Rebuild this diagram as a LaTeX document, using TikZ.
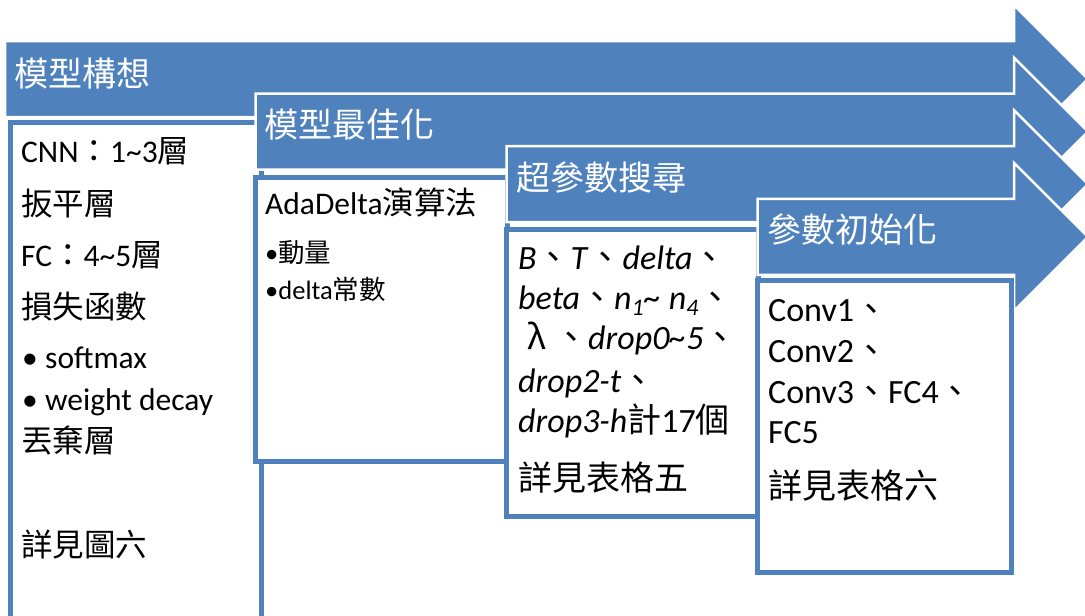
\documentclass[tikz,border=0pt]{standalone}
\usepackage{fontspec}
\setmainfont{Carlito}
\newfontfamily\cjk{Noto Sans CJK TC}
\newcommand\zh[1]{{\cjk #1}}
\definecolor{accent}{HTML}{4F81BD}
\newcommand\procarrow[2]{%
  \draw[arrowshape] (#1,#2-38) -- (1014,#2-38) -- (1014,#2-74) -- (1088,#2)
    -- (1014,#2+74) -- (1014,#2+38) -- (#1,#2+38) -- cycle;}
\begin{document}
\begin{tikzpicture}[x=1pt,y=-1pt,
  arrowshape/.style={fill=accent, draw=white, line width=2.5pt},
  panel/.style={fill=white, draw=accent, line width=5pt},
  title/.style={anchor=base west, inner sep=0pt, text=white, font=\cjk\fontsize{34}{40}\selectfont},
  txt/.style={anchor=base west, inner sep=0pt, text=black, font=\fontsize{31.5}{36}\selectfont},
  big/.style={anchor=base west, inner sep=0pt, text=black, font=\fontsize{34}{40}\selectfont},
  small/.style={anchor=base west, inner sep=0pt, text=black, font=\fontsize{26.5}{30}\selectfont}]
\clip (0,0) rectangle (1085,616);
\fill[white] (0,0) rectangle (1085,616);
% stage 1
\procarrow{5}{79}
\draw[panel] (10,122) rectangle (261.5,660);
\node[title] (t1) at (14,86) {模型構想};
\node[txt] (a1) at (21,162) {CNN\zh{：}1\textasciitilde 3\zh{層}};
\node[txt] (a2) at (21,215) {\zh{扳平層}};
\node[txt] (a3) at (21,266) {FC\zh{：}4\textasciitilde 5\zh{層}};
\node[txt] (a4) at (21,318) {\zh{損失函數}};
\node[txt] (a5b) at (22,368) {•};
\node[txt] (a5) at (45,368) {softmax};
\node[txt] (a6b) at (22,410) {•};
\node[txt] (a6) at (45,410) {weight decay};
\node[txt] (a7) at (21,452) {\zh{丟棄層}};
\node[txt] (a8) at (21,556) {\zh{詳見圖六}};
% stage 2
\procarrow{255.5}{131.6}
\draw[panel] (255.5,177.5) rectangle (507,461);
\node[title] (t2) at (264,137) {模型最佳化};
\node[txt] (b1) at (265,214) {AdaDelta\zh{演算法}};
\node[small] (b2) at (265,262) {•\zh{動量}};
\node[small] (b3) at (265,299) {•delta\zh{常數}};
% stage 3
\procarrow{506.5}{184.2}
\draw[panel] (506.5,229) rectangle (758,516);
\node[title] (t3) at (516,190) {超參數搜尋};
\node[big] (c1) at (518,269) {\textit{B}\zh{、}\textit{T}\zh{、}\textit{delta}\zh{、}};
\node[big] (c2) at (518,309) {\textit{beta}\zh{、}\textit{n\textsubscript{1}\textasciitilde{} n\textsubscript{4}}\zh{、}};
\node[big] (c3) at (518,349) {\hspace{2pt}\makebox[34pt]{\zh{λ}}\zh{、}\textit{drop0\textasciitilde 5}\zh{、}};
\node[big] (c4) at (518,392) {\textit{drop2-t}\zh{、}};
\node[big] (c5) at (518,432) {\textit{drop3-h}\zh{計}17\zh{個}};
\node[big] (c6) at (518,490) {\zh{詳見表格五}};
% stage 4
\procarrow{757.5}{236.8}
\draw[panel] (757.5,280.5) rectangle (1011.5,572);
\node[title] (t4) at (767,242) {參數初始化};
\node[big] (d1) at (768,321) {Conv1\zh{、}};
\node[big] (d2) at (768,362) {Conv2\zh{、}};
\node[big] (d3) at (768,403) {Conv3\zh{、}FC4\zh{、}};
\node[big] (d4) at (768,443) {FC5};
\node[big] (d5) at (768,498) {\zh{詳見表格六}};
\end{tikzpicture}
\end{document}
